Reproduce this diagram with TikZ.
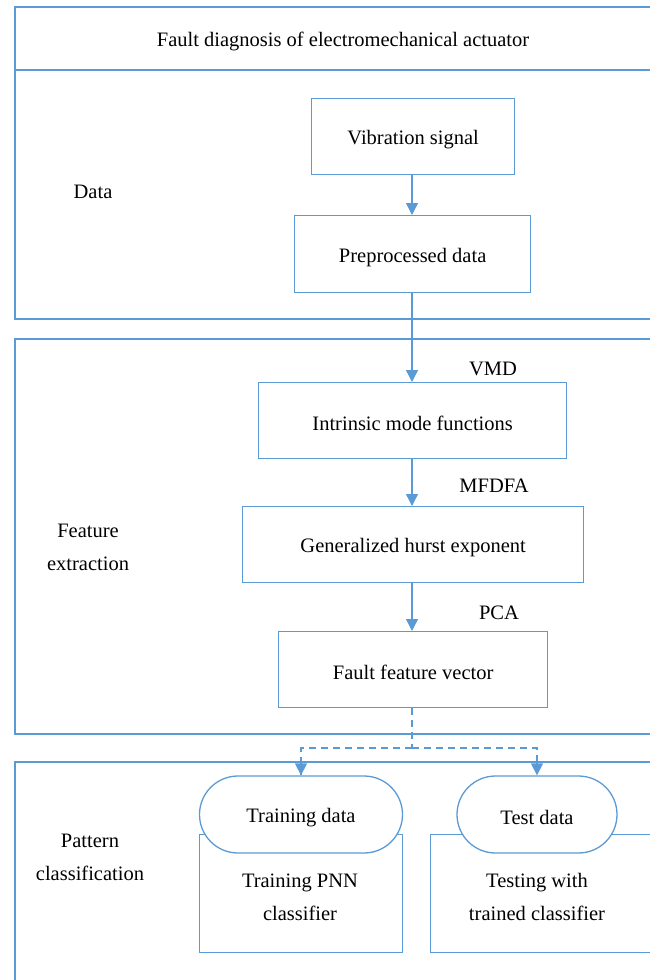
\documentclass[tikz,border=0pt]{standalone}
\usepackage{fontspec}
\setmainfont{Liberation Serif}
\usetikzlibrary{arrows.meta,shapes.misc}
\definecolor{ln}{RGB}{91,155,213}
\tikzset{
  frame/.style={draw=ln,line width=1.3bp},
  box/.style={draw=ln,line width=1.3bp,fill=white,inner sep=0pt,anchor=north west},
  stad/.style={draw=ln,line width=1.3bp,fill=white,rounded rectangle,inner sep=0pt},
  arr/.style={draw=ln,line width=1.3bp,-{Triangle[width=12bp,length=12bp]}},
  darr/.style={draw=ln,line width=1.3bp,dash pattern=on 7bp off 5bp},
  lbl/.style={font=\fontsize{20.5bp}{33bp}\selectfont,align=center,inner sep=0pt},
  blbl/.style={lbl,yshift=-3bp},
}
\begin{document}
\begin{tikzpicture}[x=1bp,y=-1bp]
\useasboundingbox (0,0) rectangle (650,980);
\clip (0,0) rectangle (650,980);
% frames
\draw[frame] (15,7) rectangle (680,319);
\draw[frame] (15,70) -- (680,70);
\draw[frame] (15,339) rectangle (680,734);
\draw[frame] (15,762) rectangle (680,1000);
\node[lbl] (title) at (343,41) {Fault diagnosis of electromechanical actuator};
\node[lbl] (data) at (93,192) {Data};
\node[lbl] (fe) at (88,547) {Feature\\extraction};
\node[lbl] (pc) at (90,857) {Pattern\\classification};
% boxes
\node[box,minimum width=203bp,minimum height=76bp] (vs) at (311,98) {};
\node[blbl] at (vs.center) {Vibration signal};
\node[box,minimum width=236bp,minimum height=77bp] (pd) at (294,215) {};
\node[blbl] at (pd.center) {Preprocessed data};
\node[box,minimum width=308bp,minimum height=76bp] (imf) at (258,382) {};
\node[blbl] at (imf.center) {Intrinsic mode functions};
\node[box,minimum width=341bp,minimum height=76bp] (ghe) at (242,506) {};
\node[blbl] at (ghe.center) {Generalized hurst exponent};
\node[box,minimum width=269bp,minimum height=76bp] (ffv) at (278,631) {};
\node[blbl] at (ffv.center) {Fault feature vector};
% method labels
\node[lbl] (vmd) at (493,369) {VMD};
\node[lbl] (mfdfa) at (494,486) {MFDFA};
\node[lbl] (pca) at (499,613) {PCA};
% arrows
\coordinate (ax) at (412,0);
\draw[arr] (vs.south -| ax) -- (pd.north -| ax);
\draw[arr] (pd.south -| ax) -- (imf.north -| ax);
\draw[arr] (imf.south -| ax) -- (ghe.north -| ax);
\draw[arr] (ghe.south -| ax) -- (ffv.north -| ax);
% classification
\node[box,minimum width=203bp,minimum height=118bp] (tr) at (199,834) {};
\node[lbl] at (300,897) {Training PNN\\classifier};
\node[box,minimum width=240bp,minimum height=118bp] (ts) at (430,834) {};
\node[lbl] at (537,897) {Testing with\\trained classifier};
\node[stad,minimum width=203bp,minimum height=77bp] (trd) at (301,814.5) {};
\node[blbl] at (trd.center) {Training data};
\node[stad,minimum width=160bp,minimum height=77bp] (tsd) at (537,814.5) {};
\node[blbl] at (tsd.center) {Test data};
\coordinate (split) at (412,748);
\draw[darr] (ffv.south -| ax) -- (split);
\draw[darr] (split) -| (trd.north);
\draw[darr] (split) -| (tsd.north);
\draw[arr] (trd.north) ++(0,-14) -- (trd.north);
\draw[arr] (tsd.north) ++(0,-14) -- (tsd.north);
\end{tikzpicture}
\end{document}
